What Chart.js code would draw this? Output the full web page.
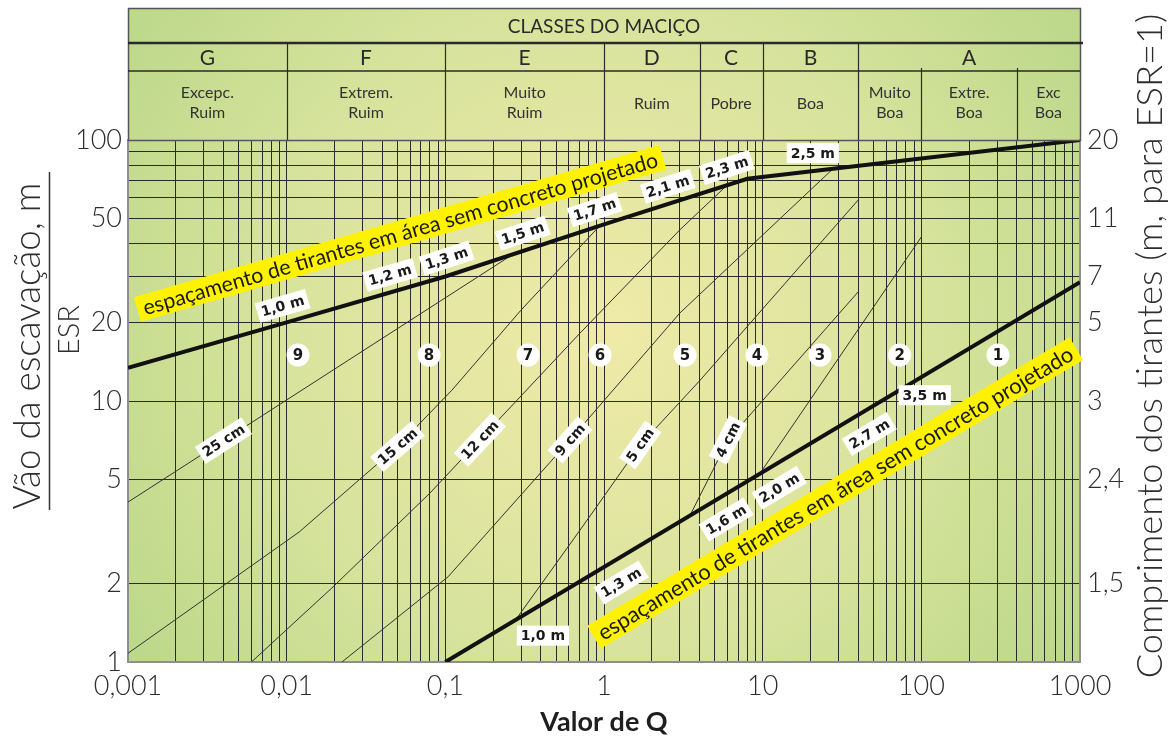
<!DOCTYPE html>
<html>
<head>
<meta charset="utf-8">
<script src="https://cdn.jsdelivr.net/npm/chart.js@4.4.1/dist/chart.umd.min.js"></script>
<style>
  html, body { margin: 0; padding: 0; background: #ffffff; }
  #wrap { width: 1171px; height: 742px; }
</style>
</head>
<body>
<div id="wrap"><canvas id="chart" width="1171" height="742"></canvas></div>
<script>
// ---- Rock mass classes along the Q axis ----
const classBounds   = [0.001, 0.01, 0.1, 1, 4, 10, 40, 1000];
const classLetters  = ['G', 'F', 'E', 'D', 'C', 'B', 'A'];
const qualityBounds = [0.001, 0.01, 0.1, 1, 4, 10, 40, 100, 400, 1000];
const qualityNames  = [['Excepc.', 'Ruim'], ['Extrem.', 'Ruim'], ['Muito', 'Ruim'], ['Ruim'], ['Pobre'],
                       ['Boa'], ['Muito', 'Boa'], ['Extre.', 'Boa'], ['Exc', 'Boa']];

// ---- Axis ticks ----
const xTickValues = [0.001, 0.01, 0.1, 1, 10, 100, 1000];
const xTickLabels = ['0,001', '0,01', '0,1', '1', '10', '100', '1000'];
const yTickValues = [1, 2, 5, 10, 20, 50, 100];
const yTickLabels = ['1', '2', '5', '10', '20', '50', '100'];
const yGridValues = [1, 2, 5, 10, 20, 30, 40, 50, 60, 70, 80, 90, 100];
const boltLengthAt     = [2, 5, 10, 20, 30, 50, 100];
const boltLengthLabels = ['1,5', '2,4', '3', '5', '7', '11', '20'];

// ---- Bolt spacing lines (Q, span/ESR) ----
const qUnshotcreted = [0.001, 0.01, 0.1, 1, 8, 1000];
const vUnshotcreted = [13.4, 20, 30, 47.5, 71, 100];
const qShotcreted   = [0.1, 1000];
const vShotcreted   = [1, 28.5];

// ---- Shotcrete thickness / support zone boundaries (Q, span/ESR) ----
const q25cm = [0.001, 0.267];
const v25cm = [4.1, 36.5];
const q15cm = [0.001, 0.012, 0.05, 0.11, 0.3, 0.94];
const v15cm = [1.08, 3.15, 6.7, 11, 22.3, 46.9];
const q12cm = [0.006, 0.0196, 0.08, 0.165, 0.706, 3.0, 5.96];
const v12cm = [1, 1.94, 4.44, 7.1, 18.2, 45.2, 67.1];
const q9cm  = [0.0223, 0.104, 0.611, 3.0, 27.7];
const v9cm  = [1, 2.12, 7.1, 21.7, 77.5];
const q5cm  = [0.275, 0.706, 1.69, 4.03, 40];
const v5cm  = [1.44, 3.2, 6.78, 12.0, 58.9];
const q4cm  = [3.48, 4.86, 6.04, 9.2, 40];
const v4cm  = [3.64, 5.44, 7.09, 9.48, 26.2];
const qZone2 = [9.6, 100];
const vZone2 = [5.27, 42.5];

// ---- Thickness labels: text and Q where each sits on its line ----
const thicknessTexts = ['25 cm', '15 cm', '12 cm', '9 cm', '5 cm', '4 cm'];
const thicknessAtQ   = [0.004, 0.05, 0.165, 0.611, 1.69, 6.04];

// ---- Bolt spacing labels ----
const unshotSpacingTexts = ['1,0 m', '1,2 m', '1,3 m', '1,5 m', '1,7 m', '2,1 m', '2,3 m', '2,5 m'];
const unshotSpacingAtQ   = [0.0101, 0.048, 0.11, 0.332, 0.944, 2.72, 6.41, 20.7];
const shotSpacingTexts   = ['1,0 m', '1,3 m', '1,6 m', '2,0 m', '2,7 m', '3,5 m'];
const shotSpacingAtQ     = [0.412, 1.09, 5.0, 10.8, 39.9, 105];

// ---- Support category markers ----
const categoryQ      = [0.0118, 0.079, 0.332, 0.944, 3.24, 9.2, 23, 73, 304];
const categoryV      = [15, 15, 15, 15, 15, 15, 15, 15, 15];
const categoryNumber = ['9', '8', '7', '6', '5', '4', '3', '2', '1'];

const bandText = 'espaçamento de tirantes em área sem concreto projetado';

const pts = (qs, vs) => qs.map((q, i) => ({ x: q, y: vs[i] }));
const thinLine = (qs, vs) => ({
  data: pts(qs, vs), borderColor: '#333', borderWidth: 1, pointRadius: 0, tension: 0, fill: false
});

// Interpolates a polyline in log space; returns pixel position and direction.
function onLine(chart, qs, vs, q) {
  const xs = chart.scales.x, ys = chart.scales.y;
  const lq = Math.log10(q);
  let i = 0;
  while (i < qs.length - 2 && Math.log10(qs[i + 1]) < lq) i++;
  const a = Math.log10(qs[i]), b = Math.log10(qs[i + 1]);
  const t = (lq - a) / (b - a);
  const lv = Math.log10(vs[i]) + t * (Math.log10(vs[i + 1]) - Math.log10(vs[i]));
  const x1 = xs.getPixelForValue(qs[i]), y1 = ys.getPixelForValue(vs[i]);
  const x2 = xs.getPixelForValue(qs[i + 1]), y2 = ys.getPixelForValue(vs[i + 1]);
  return { x: xs.getPixelForValue(q), y: ys.getPixelForValue(Math.pow(10, lv)), angle: Math.atan2(y2 - y1, x2 - x1) };
}

function tag(ctx, text, x, y, angle) {
  ctx.save();
  ctx.translate(x, y);
  ctx.rotate(angle);
  ctx.font = 'bold 14px "DejaVu Sans", sans-serif';
  const w = ctx.measureText(text).width;
  ctx.fillStyle = '#ffffff';
  ctx.fillRect(-w / 2 - 4, -10, w + 8, 20);
  ctx.fillStyle = '#1a1a1a';
  ctx.textAlign = 'center';
  ctx.textBaseline = 'middle';
  ctx.fillText(text, 0, 1);
  ctx.restore();
}

function band(ctx, text, x, y, angle, width) {
  ctx.save();
  ctx.translate(x, y);
  ctx.rotate(angle);
  ctx.font = '20px Lato, sans-serif';
  const size = 20 * width / ctx.measureText(text).width;
  ctx.font = size.toFixed(2) + 'px Lato, sans-serif';
  const h = size * 1.2;
  ctx.fillStyle = '#fff200';
  ctx.fillRect(-width / 2 - 6, -h / 2, width + 12, h);
  ctx.fillStyle = '#1a1a1a';
  ctx.textAlign = 'center';
  ctx.textBaseline = 'middle';
  ctx.fillText(text, 0, 1);
  ctx.restore();
}

function fitText(ctx, text, family, weight, width) {
  ctx.font = weight + ' 20px ' + family;
  const s = 20 * width / ctx.measureText(text).width;
  ctx.font = weight + ' ' + s.toFixed(2) + 'px ' + family;
}

const decor = {
  id: 'decor',
  beforeDraw(chart) {
    const { ctx, chartArea: ca } = chart;
    ctx.save();
    ctx.fillStyle = '#ffffff';
    ctx.fillRect(0, 0, chart.width, chart.height);
    const g = ctx.createRadialGradient(600, 330, 10, 600, 330, 720);
    g.addColorStop(0, '#efeaa8');
    g.addColorStop(0.45, '#d7e39c');
    g.addColorStop(1, '#abd17f');
    ctx.fillStyle = g;
    ctx.fillRect(ca.left, 8, ca.right - ca.left, ca.bottom - 8);
    ctx.restore();
  },
  afterDatasetsDraw(chart) {
    const { ctx } = chart;

    // yellow bands along both spacing lines
    let p = onLine(chart, qUnshotcreted, vUnshotcreted, 0.0646);
    band(ctx, bandText, p.x + Math.sin(p.angle) * 54, p.y - Math.cos(p.angle) * 54, p.angle, 535);
    p = onLine(chart, qShotcreted, vShotcreted, 19.0);
    band(ctx, bandText, p.x - Math.sin(p.angle) * 55, p.y + Math.cos(p.angle) * 55, p.angle, 550);

    // thickness labels sit on their lines
    const thin = [[q25cm, v25cm], [q15cm, v15cm], [q12cm, v12cm], [q9cm, v9cm], [q5cm, v5cm], [q4cm, v4cm]];
    thicknessTexts.forEach((t, i) => {
      const r = onLine(chart, thin[i][0], thin[i][1], thicknessAtQ[i]);
      tag(ctx, t, r.x, r.y, r.angle);
    });

    // spacing labels above the upper line
    unshotSpacingTexts.forEach((t, i) => {
      const r = onLine(chart, qUnshotcreted, vUnshotcreted, unshotSpacingAtQ[i]);
      if (i === unshotSpacingTexts.length - 1) {
        tag(ctx, t, r.x, r.y - 18, 0);
      } else {
        tag(ctx, t, r.x + Math.sin(r.angle) * 17, r.y - Math.cos(r.angle) * 17, r.angle);
      }
    });
    // spacing labels below the lower line
    shotSpacingTexts.forEach((t, i) => {
      const r = onLine(chart, qShotcreted, vShotcreted, shotSpacingAtQ[i]);
      if (i === 0) {
        tag(ctx, t, r.x, r.y + 32, 0);
      } else if (i === shotSpacingTexts.length - 1) {
        tag(ctx, t, r.x, r.y + 20, 0);
      } else {
        tag(ctx, t, r.x - Math.sin(r.angle) * 22, r.y + Math.cos(r.angle) * 22, r.angle);
      }
    });

    // category numbers inside the white markers
    const meta = chart.getDatasetMeta(chart.data.datasets.length - 1);
    ctx.save();
    ctx.font = 'bold 15px "DejaVu Sans", sans-serif';
    ctx.fillStyle = '#1a1a1a';
    ctx.textAlign = 'center';
    ctx.textBaseline = 'middle';
    meta.data.forEach((el, i) => ctx.fillText(categoryNumber[i], el.x, el.y + 1));
    ctx.restore();
  },
  afterDraw(chart) {
    const { ctx, chartArea: ca } = chart;
    const xs = chart.scales.x;
    const top = 8, rowA = 43, rowB = 71;
    ctx.save();
    // header frame
    ctx.strokeStyle = '#555';
    ctx.lineWidth = 1.5;
    ctx.strokeRect(ca.left + 0.5, top + 0.5, ca.right - ca.left, ca.top - top);
    ctx.strokeStyle = '#2a2a2a';
    ctx.lineWidth = 2.5;
    ctx.beginPath(); ctx.moveTo(ca.left, rowA); ctx.lineTo(ca.right + 3, rowA); ctx.stroke();
    ctx.lineWidth = 1.3;
    ctx.beginPath(); ctx.moveTo(ca.left, rowB); ctx.lineTo(ca.right, rowB); ctx.stroke();
    ctx.lineWidth = 1.2;
    classBounds.slice(1, -1).forEach(q => {
      const x = Math.round(xs.getPixelForValue(q)) + 0.5;
      ctx.beginPath(); ctx.moveTo(x, rowA); ctx.lineTo(x, ca.top); ctx.stroke();
    });
    [100, 400].forEach(q => {
      const x = Math.round(xs.getPixelForValue(q)) + 0.5;
      ctx.beginPath(); ctx.moveTo(x, rowB - 3); ctx.lineTo(x, ca.top); ctx.stroke();
    });

    ctx.fillStyle = '#2a2a2a';
    ctx.textAlign = 'center';
    ctx.textBaseline = 'middle';
    ctx.font = '19px Lato, sans-serif';
    ctx.fillText('CLASSES DO MACIÇO', (ca.left + ca.right) / 2, 27);
    ctx.font = '21px Lato, sans-serif';
    classLetters.forEach((L, i) => {
      const x = (xs.getPixelForValue(classBounds[i]) + xs.getPixelForValue(classBounds[i + 1])) / 2;
      ctx.fillText(L, x, 58);
    });
    ctx.font = '16px Lato, sans-serif';
    ctx.fillStyle = '#333';
    qualityNames.forEach((lines, i) => {
      const x = (xs.getPixelForValue(qualityBounds[i]) + xs.getPixelForValue(qualityBounds[i + 1])) / 2;
      if (lines.length === 1) ctx.fillText(lines[0], x, 104);
      else { ctx.fillText(lines[0], x, 93); ctx.fillText(lines[1], x, 113); }
    });

    // left axis title as a fraction: span / ESR
    ctx.fillStyle = '#2e2e2e';
    ctx.save();
    ctx.translate(28, 346);
    ctx.rotate(-Math.PI / 2);
    fitText(ctx, 'Vão da escavação, m', 'Lato, sans-serif', '300', 327);
    ctx.fillText('Vão da escavação, m', 0, 0);
    ctx.restore();
    ctx.strokeStyle = '#333';
    ctx.lineWidth = 1.5;
    ctx.beginPath(); ctx.moveTo(49.5, 172); ctx.lineTo(49.5, 510); ctx.stroke();
    ctx.save();
    ctx.translate(70, 330);
    ctx.rotate(-Math.PI / 2);
    ctx.font = '300 29px Lato, sans-serif';
    ctx.fillText('ESR', 0, 0);
    ctx.restore();

    // right axis title
    ctx.save();
    ctx.translate(1150, 346);
    ctx.rotate(-Math.PI / 2);
    fitText(ctx, 'Comprimento dos tirantes (m, para ESR=1)', 'Lato, sans-serif', '300', 665);
    ctx.fillText('Comprimento dos tirantes (m, para ESR=1)', 0, 0);
    ctx.restore();
    ctx.restore();
  }
};

const tickFont = { family: 'Lato, sans-serif', size: 27, weight: '300' };

new Chart(document.getElementById('chart'), {
  type: 'line',
  data: {
    datasets: [
      { data: pts(qUnshotcreted, vUnshotcreted), borderColor: '#111', borderWidth: 4, pointRadius: 0, tension: 0 },
      { data: pts(qShotcreted, vShotcreted), borderColor: '#111', borderWidth: 4, pointRadius: 0, tension: 0 },
      thinLine(q25cm, v25cm),
      thinLine(q15cm, v15cm),
      thinLine(q12cm, v12cm),
      thinLine(q9cm, v9cm),
      thinLine(q5cm, v5cm),
      thinLine(q4cm, v4cm),
      thinLine(qZone2, vZone2),
      { data: pts(categoryQ, categoryV), showLine: false, pointRadius: 11.5, pointBackgroundColor: '#ffffff',
        pointBorderWidth: 0, pointBorderColor: '#ffffff' }
    ]
  },
  options: {
    responsive: false,
    animation: false,
    events: [],
    layout: { padding: { top: 140, left: 0, right: 0, bottom: 0 } },
    plugins: { legend: { display: false }, tooltip: { enabled: false } },
    scales: {
      x: {
        type: 'logarithmic', min: 0.001, max: 1000, position: 'bottom',
        afterBuildTicks: s => {
          const t = [];
          for (let e = -3; e < 3; e++) for (let m = 1; m < 10; m++) t.push({ value: m * Math.pow(10, e) });
          t.push({ value: 1000 });
          s.ticks = t;
        },
        afterFit: s => { s.height = 80; },
        ticks: {
          autoSkip: false, maxRotation: 0, padding: 8, color: '#2e2e2e', font: tickFont,
          callback: v => { const i = xTickValues.findIndex(t => Math.abs(t / v - 1) < 1e-6); return i >= 0 ? xTickLabels[i] : ''; }
        },
        grid: { color: '#2a2a2a', lineWidth: 1, drawTicks: false },
        border: { display: true, color: '#8e8e8e', width: 2 },
        title: { display: true, text: 'Valor de Q', color: '#1e1e1e',
                 font: { family: 'Lato, sans-serif', size: 27, weight: 'bold' }, padding: { top: 0, bottom: 4 } }
      },
      y: {
        type: 'logarithmic', min: 1, max: 100, position: 'left',
        afterBuildTicks: s => { s.ticks = yGridValues.map(v => ({ value: v })); },
        afterFit: s => { s.width = 128; },
        ticks: {
          autoSkip: false, padding: 6, color: '#2e2e2e', font: tickFont,
          callback: v => { const i = yTickValues.indexOf(v); return i >= 0 ? yTickLabels[i] : ''; }
        },
        grid: { color: '#2a2a2a', lineWidth: 1, drawTicks: false },
        border: { display: true, color: '#8e8e8e', width: 2 }
      },
      y2: {
        type: 'logarithmic', min: 1, max: 100, position: 'right',
        afterBuildTicks: s => { s.ticks = boltLengthAt.map(v => ({ value: v })); },
        afterFit: s => { s.width = 91; },
        ticks: {
          autoSkip: false, padding: 7, color: '#2e2e2e', font: tickFont,
          callback: v => { const i = boltLengthAt.indexOf(v); return i >= 0 ? boltLengthLabels[i] : ''; }
        },
        grid: { display: false, drawTicks: false },
        border: { display: true, color: '#8e8e8e', width: 2 }
      }
    }
  },
  plugins: [decor]
});
</script>
</body>
</html>
